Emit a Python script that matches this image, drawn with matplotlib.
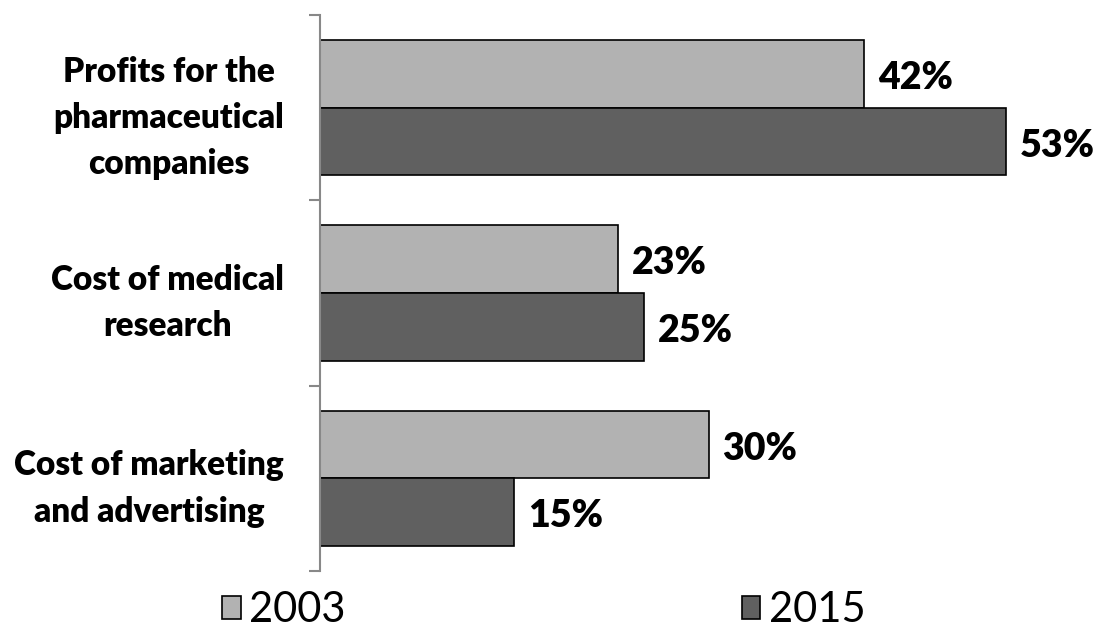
import matplotlib
matplotlib.use("Agg")
import matplotlib.pyplot as plt
import numpy as np

plt.rcParams["font.family"] = ["Lato", "DejaVu Sans"]

categories = ["Profits for the\npharmaceutical\ncompanies",
              "Cost of medical\nresearch",
              "Cost of marketing\nand advertising"]
years = ["2003", "2015"]
values_2003 = [42, 23, 30]
values_2015 = [53, 25, 15]

colors = ["#b2b2b2", "#606060"]

fig = plt.figure(figsize=(10.94, 6.41), dpi=100)
ax = fig.add_axes([320 / 1094, 1 - 571 / 641, 774 / 1094, 556 / 641])

y = np.arange(len(categories))
h = 0.365

bars1 = ax.barh(y - h / 2, values_2003, height=h, color=colors[0],
                edgecolor="black", linewidth=1.2, label=years[0])
bars2 = ax.barh(y + h / 2, values_2015, height=h, color=colors[1],
                edgecolor="black", linewidth=1.2, label=years[1])

for bars in (bars1, bars2):
    for b in bars:
        ax.annotate(f"{b.get_width():.0f}%",
                    (b.get_width(), b.get_y() + b.get_height() / 2),
                    xytext=(10, -3), textcoords="offset points",
                    ha="left", va="center", fontsize=27, fontweight="heavy")

ax.set_xlim(0, 774 / 12.95)
ax.set_ylim(2.5, -0.5)

# ticks at group boundaries on the left spine
ax.set_yticks([-0.5, 0.5, 1.5, 2.5])
ax.set_yticklabels([])
ax.set_yticks(y, minor=True)
ax.set_yticklabels(categories, minor=True, fontsize=24, fontweight="heavy",
                   ha="right", multialignment="center", linespacing=1.55)
ax.tick_params(axis="y", which="minor", length=0, pad=26)
ax.tick_params(axis="y", which="major", length=8, color="#888888", width=1.5)
ax.set_xticks([])

for s in ["top", "right", "bottom"]:
    ax.spines[s].set_visible(False)
ax.spines["left"].set_color("#888888")
ax.spines["left"].set_linewidth(1.5)

fig.legend(loc="center", bbox_to_anchor=(0.497, 0.048), ncol=2, frameon=False,
           fontsize=30, handlelength=0.45, handleheight=0.45, handletextpad=0.2,
           columnspacing=9.5)

fig.savefig("out.png", dpi=100)
